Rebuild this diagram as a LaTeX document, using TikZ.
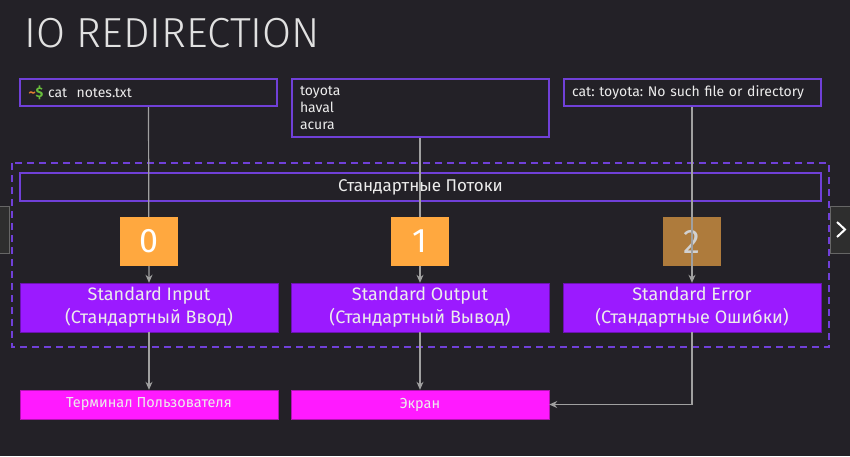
\documentclass[tikz,border=0pt]{standalone}
\usepackage{fontspec}
\setmainfont{Fira Sans}
\newfontfamily\titlefont{Fira Sans Light}
\usetikzlibrary{arrows.meta}
\frenchspacing

\definecolor{bg}{RGB}{35,33,39}
\definecolor{fg}{RGB}{236,236,236}
\definecolor{frameline}{RGB}{112,64,216}
\definecolor{streamorange}{RGB}{255,168,63}
\definecolor{streamdim}{RGB}{174,123,60}
\definecolor{streamviolet}{RGB}{155,26,255}
\definecolor{targetpink}{RGB}{255,26,255}
\definecolor{wiregray}{RGB}{160,160,160}
\definecolor{tildeorange}{RGB}{226,128,48}
\definecolor{dollargreen}{RGB}{104,190,60}

\begin{document}
\begin{tikzpicture}[x=1pt,y=-1pt,
  textbox/.style={draw=frameline,line width=2pt,minimum width=257pt,text width=240pt,
    align=left,inner sep=0pt,text=fg,font=\fontsize{14}{17}\selectfont},
  streambox/.style={fill=streamviolet,draw=streamviolet!70!black,minimum width=258pt,
    minimum height=49pt,align=center,text=fg,font=\fontsize{18}{23}\selectfont},
  targetbox/.style={fill=targetpink,draw=targetpink!70!black,minimum width=258pt,
    minimum height=29pt,text=fg,font=\fontsize{14.5}{15}\selectfont},
  fdbox/.style={minimum width=58pt,minimum height=49pt,inner sep=0pt,
    font=\fontsize{34}{34}\selectfont},
  wire/.style={draw=wiregray,line width=1.2pt,-{Stealth[length=8pt,width=7pt]}}]

\useasboundingbox (0,0) rectangle (850,456);
\fill[bg] (0,0) rectangle (850,456);

% Title
\node[anchor=base west,inner sep=0pt,text=fg!90!gray,font=\titlefont\fontsize{42}{42}\selectfont]
  (title) at (24,47) {IO REDIRECTION};

% Command, output and error text boxes
\node[textbox,minimum height=27pt] (cmd) at (148.5,92.5)
  {\textcolor{tildeorange}{\textbf{\textasciitilde}}\textcolor{dollargreen}{\textbf{\$}} cat\ \ notes.txt};
\node[textbox,minimum height=58pt] (out) at (420,108) {toyota\\haval\\acura};
\node[textbox,minimum height=27pt] (err) at (692,92.5) {cat: toyota: No such file or directory};

% Dashed frame round the streams
\draw[frameline,line width=1.5pt,dash pattern=on 7pt off 5pt] (12,163) rectangle (829,347);
\node[draw=frameline,line width=2pt,minimum width=801pt,minimum height=28pt,text=fg,
  font=\fontsize{17}{17}\selectfont] (streams) at (420.5,187) {Стандартные Потоки};

% The three standard streams
\node[streambox] (stdin) at (149,307.5) {Standard Input\\(Стандартный Ввод)};
\node[streambox] (stdout) at (420,307.5) {Standard Output\\(Стандартный Вывод)};
\node[streambox] (stderr) at (692,307.5) {Standard Error\\(Стандартные Ошибки)};

% Where the streams end up
\node[targetbox] (terminal) at (149,404.5) {Терминал Пользователя};
\node[targetbox] (screen) at (420,404.5) {Экран};

% Descriptor 2 lies under its wire
\node[fdbox,fill=streamdim,text=fg!75!gray] (fd2) at (692,241.5) {2};

% Links
\draw[wire] (cmd.south) -- (stdin.north);
\draw[wire] (out.south) -- (stdout.north);
\draw[wire] (err.south) -- (stderr.north);
\draw[wire] (stdin.south) -- (terminal.north);
\draw[wire] (stdout.south) -- (screen.north);
\draw[wire] (stderr.south) |- (screen.east);

% Descriptors 0 and 1 cover their wires
\node[fdbox,fill=streamorange,text=white] (fd0) at (149,241.5) {0};
\node[fdbox,fill=streamorange,text=white] (fd1) at (420,241.5) {1};

% Slide navigation buttons
\filldraw[fill=black!82,draw=black!60,line width=0.8pt] (-2,206) rectangle (9,253);
\filldraw[fill=black!82,draw=black!60,line width=0.8pt] (830,206) rectangle (852,253);
\draw[white,line width=2pt] (837,222) -- (845,229.5) -- (837,237);

\end{tikzpicture}
\end{document}
